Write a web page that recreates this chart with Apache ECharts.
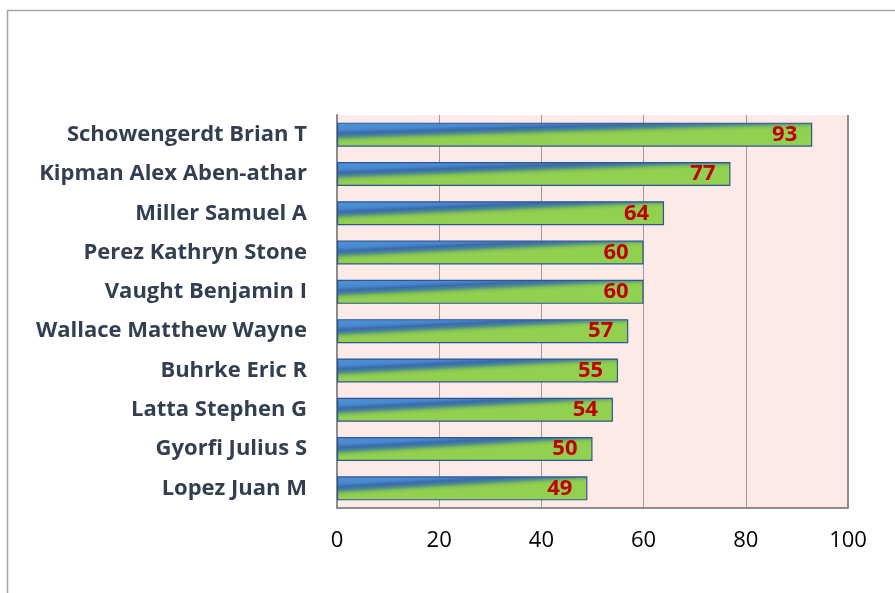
<!DOCTYPE html>
<html>
<head>
<meta charset="utf-8">
<script src="https://cdn.jsdelivr.net/npm/echarts@6/dist/echarts.min.js"></script>
<style>
  html, body { margin: 0; padding: 0; background: #fff; }
  #chart { width: 895px; height: 593px; }
</style>
</head>
<body>
<div id="chart"></div>
<script>
// names listed bottom to top (category axis starts at the bottom)
const names = [
  'Lopez Juan M',
  'Gyorfi Julius S',
  'Latta Stephen G',
  'Buhrke Eric R',
  'Wallace Matthew Wayne',
  'Vaught Benjamin I',
  'Perez Kathryn Stone',
  'Miller Samuel A',
  'Kipman Alex Aben-athar',
  'Schowengerdt Brian T'
]
const scores = [49, 50, 54, 55, 57, 60, 60, 64, 77, 93]
const xTicks = [0, 20, 40, 60, 80, 100]

const barRatio = 0.61
const myChart = echarts.init(document.getElementById('chart'))

const option = {
  animation: false,
  textStyle: { fontFamily: 'Open Sans' },
  graphic: [
    {
      type: 'rect',
      shape: { x: 7.5, y: 10.5, width: 1000, height: 700 },
      style: { fill: 'none', stroke: '#a6a6a6', lineWidth: 1.5 },
      z: -10
    }
  ],
  grid: {
    left: 337,
    right: 47,
    top: 115,
    bottom: 85,
    show: true,
    backgroundColor: '#fbeae6',
    borderWidth: 0
  },
  xAxis: {
    type: 'value',
    min: xTicks[0],
    max: xTicks[xTicks.length - 1],
    interval: 20,
    axisLine: { show: true, lineStyle: { color: '#8c8c8c', width: 2 } },
    axisTick: { show: false },
    axisLabel: {
      color: '#000',
      fontSize: 22,
      margin: 22,
      fontFamily: 'Open Sans'
    },
    splitLine: { show: true, lineStyle: { color: '#9a9a9a', width: 1 } }
  },
  yAxis: {
    type: 'category',
    data: names,
    axisLine: { show: true, lineStyle: { color: '#8c8c8c', width: 2 } },
    axisTick: { show: false },
    axisLabel: {
      color: '#333f50',
      fontSize: 22,
      fontWeight: 'bold',
      margin: 30,
      fontFamily: 'Open Sans'
    }
  },
  series: [
    {
      type: 'bar',
      data: scores,
      barWidth: (barRatio * 100) + '%',
      itemStyle: {
        color: '#92d050',
        borderColor: '#2f5597',
        borderWidth: 1.2
      },
      label: {
        show: true,
        position: 'insideRight',
        distance: 15,
        color: '#c00000',
        fontSize: 22,
        fontWeight: 'bold',
        fontFamily: 'Open Sans'
      }
    },
    {
      // right border of the plot area
      type: 'line',
      data: [],
      markLine: {
        silent: true,
        symbol: 'none',
        label: { show: false },
        lineStyle: { color: '#8c8c8c', width: 2, type: 'solid' },
        data: [{ xAxis: xTicks[xTicks.length - 1] }]
      }
    }
  ]
}

option && myChart.setOption(option)

// slanted blue->green fill, shallow diagonal across each bar
// (pixel coords taken from the axes after the first render)
const stops = [
  { offset: 0, color: '#4E94D6' },
  { offset: 0.3, color: '#4889CF' },
  { offset: 0.45, color: '#3A69AD' },
  { offset: 0.58, color: '#4A8A8E' },
  { offset: 0.72, color: '#84C056' },
  { offset: 0.84, color: '#92D050' },
  { offset: 1, color: '#92D050' }
]
const p0 = myChart.convertToPixel({ seriesIndex: 0 }, [0, 0])
const p1 = myChart.convertToPixel({ seriesIndex: 0 }, [0, 1])
const barH = Math.abs(p0[1] - p1[1]) * barRatio
const gradData = scores.map((v, i) => {
  const start = myChart.convertToPixel({ seriesIndex: 0 }, [0, i])
  const end = myChart.convertToPixel({ seriesIndex: 0 }, [v, i])
  const len = end[0] - start[0]
  const top = start[1] - barH / 2
  const k1 = 1.0 / barH
  const k2 = 0.6 / len
  const d = k1 * k1 + k2 * k2
  return {
    value: v,
    itemStyle: {
      color: new echarts.graphic.LinearGradient(
        start[0], top, start[0] + k2 / d, top + k1 / d, stops, true)
    }
  }
})
myChart.setOption({ series: [{ data: gradData }] })
</script>
</body>
</html>
